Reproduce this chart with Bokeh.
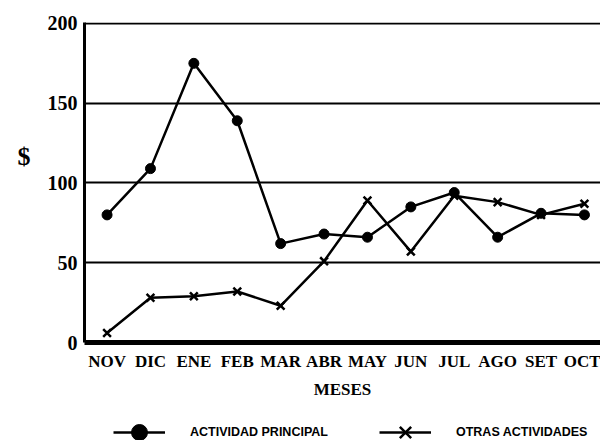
from bokeh.plotting import figure
from bokeh.models import Range1d, FixedTicker, Legend, LegendItem
from bokeh.layouts import column
from bokeh.embed import file_html
from bokeh.resources import INLINE

months = ["NOV", "DIC", "ENE", "FEB", "MAR", "ABR", "MAY", "JUN", "JUL", "AGO", "SET", "OCT"]
principal = [80, 109, 175, 139, 62, 68, 66, 85, 94, 66, 81, 80]
otras = [6, 28, 29, 32, 23, 51, 89, 57, 92, 88, 80, 87]
y_ticks = [0, 50, 100, 150, 200]
grid_ticks = [50, 100, 150, 200]
series_labels = ["ACTIVIDAD PRINCIPAL", "OTRAS ACTIVIDADES"]
y_label = "$"
x_label = "MESES"

x = list(range(len(months)))

p = figure(width=600, height=410, output_backend="svg", toolbar_location=None,
           x_range=Range1d(-0.52, 11.37), y_range=Range1d(0, 200.6),
           min_border_left=84, min_border_right=0, min_border_top=22, min_border_bottom=68)
p.outline_line_color = None
p.background_fill_color = "white"
p.border_fill_color = "white"

serif = "Liberation Serif"

# x axis
p.xaxis.ticker = FixedTicker(ticks=x)
p.xaxis.major_label_overrides = {i: m for i, m in enumerate(months)}
p.xaxis.major_label_text_font = serif
p.xaxis.major_label_text_font_style = "bold"
p.xaxis.major_label_text_font_size = "17px"
p.xaxis.major_label_text_color = "black"
p.xaxis.major_label_standoff = 9
p.xaxis.major_tick_out = 0
p.xaxis.major_tick_in = 0
p.xaxis.major_tick_line_color = None
p.xaxis.minor_tick_line_color = None
p.xaxis.axis_line_width = 5
p.xaxis.axis_line_color = "black"
p.xaxis.axis_label = x_label
p.xaxis.axis_label_text_font = serif
p.xaxis.axis_label_text_font_style = "bold"
p.xaxis.axis_label_text_font_size = "17px"
p.xaxis.axis_label_text_color = "black"
p.xaxis.axis_label_standoff = 6

# y axis
yax = p.yaxis[0]
yax.ticker = FixedTicker(ticks=y_ticks)
yax.major_label_text_font = serif
yax.major_label_text_font_style = "bold"
yax.major_label_text_font_size = "20px"
yax.major_label_text_color = "black"
yax.major_label_standoff = 7
yax.major_tick_out = 0
yax.major_tick_in = 0
yax.major_tick_line_color = None
yax.minor_tick_line_color = None
yax.axis_line_width = 3
yax.axis_line_color = "black"
yax.axis_label = y_label + "\n\u00a0"
yax.axis_label_text_font = serif
yax.axis_label_text_font_style = "bold"
yax.axis_label_text_font_size = "26px"
yax.axis_label_text_line_height = 1.8
yax.axis_label_text_color = "black"
yax.axis_label_standoff = 14
if "axis_label_orientation" in yax.properties():
    yax.axis_label_orientation = "horizontal"

p.xgrid.grid_line_color = None
p.ygrid.ticker = FixedTicker(ticks=grid_ticks)
p.ygrid.grid_line_color = "black"
p.ygrid.grid_line_width = 2
p.ygrid.grid_line_alpha = 1

p.line(x, principal, line_color="black", line_width=2.5)
p.scatter(x, principal, marker="circle", size=10, fill_color="black", line_color="black")
p.line(x, otras, line_color="black", line_width=2.5)
p.scatter(x, otras, marker="x", size=11, line_color="black", line_width=2.5)

# legend strip below the chart (its renderers carry the same series, kept out of view)
lg = figure(width=600, height=30, output_backend="svg", toolbar_location=None,
            x_range=Range1d(0, 600), y_range=Range1d(-40, -10),
            x_axis_location=None, y_axis_location=None, min_border=0)
lg.outline_line_color = None
lg.xgrid.grid_line_color = None
lg.ygrid.grid_line_color = None
lg.background_fill_color = "white"
lg.border_fill_color = "white"
k1 = lg.line(x, principal, line_color="black", line_width=2.5)
m1 = lg.scatter(x, principal, marker="circle", size=10, fill_color="black", line_color="black")
k2 = lg.line(x, otras, line_color="black", line_width=2.5)
m2 = lg.scatter(x, otras, marker="x", size=11, line_color="black", line_width=2.5)

legend = Legend(items=[LegendItem(label=series_labels[0], renderers=[k1, m1]),
                       LegendItem(label=series_labels[1], renderers=[k2, m2])],
                location=(29, -12), orientation="horizontal",
                glyph_width=52, glyph_height=40, label_standoff=25, spacing=51,
                padding=0, margin=0, border_line_color=None, background_fill_alpha=0,
                label_text_font="Liberation Sans", label_text_font_style="bold",
                label_text_font_size="12.5px", label_text_color="black")
lg.add_layout(legend)

open("out.html", "w").write(file_html(column(p, lg, spacing=0), INLINE))
